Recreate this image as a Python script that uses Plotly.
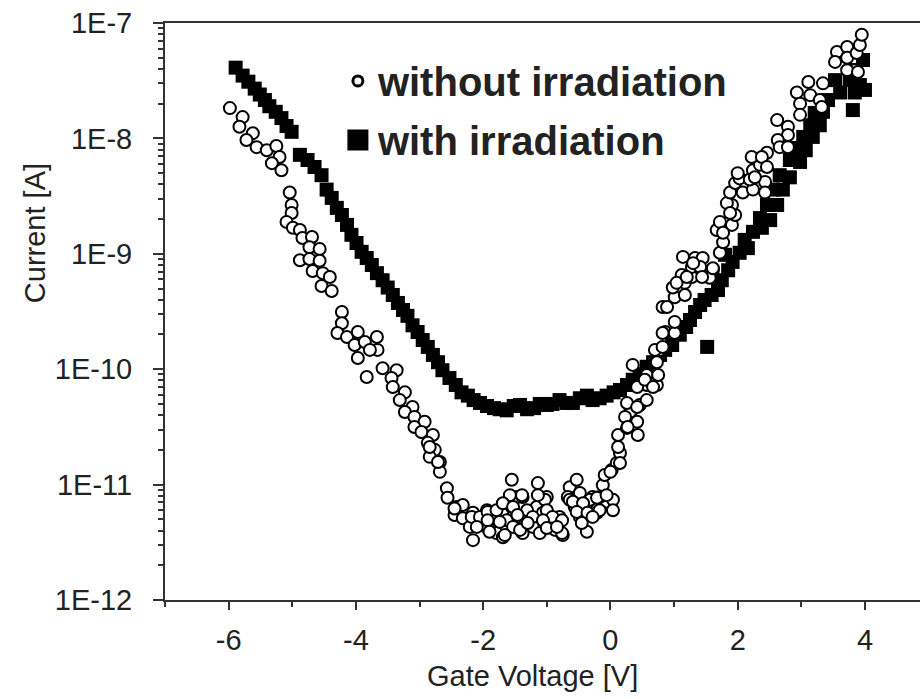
import plotly.graph_objects as go

# ---- data: without irradiation (open circles) ----
v_without = [-5.98,-5.78,-5.83,-5.62,-5.72,-5.56,-5.40,-5.25,-5.20,-5.32,-5.17,-5.04,-5.01,-5.01,-5.09,-4.99,-4.88,-4.84,-4.69,-4.73,-4.57,-4.88,-4.73,-4.57,-4.68,-4.52,-4.41,-4.54,-4.38,
             -4.22,-4.22,-4.29,-4.14,-3.97,-4.02,-3.86,-3.67,-3.66,-3.78,-3.97,-3.83,-3.58,-3.36,-3.44,-3.42,-3.23,-3.31,-3.11,-3.23,-3.08,-2.92,-3.08,-2.97,-2.79,-2.87,-2.76,-2.84,-2.68,-2.68,
             -2.57,-2.56,-2.42,-2.32,-2.45,-2.32,-2.16,-2.10,-2.21,-2.16,-1.94,-1.85,-1.93,-1.79,-1.69,-1.55,-1.47,-1.38,-1.55,-1.47,-1.63,-1.31,-1.53,-1.69,-1.38,-1.22,-1.14,-1.00,-1.16,-1.06,
             -0.95,-1.11,-1.31,-0.80,-0.75,-0.87,-0.64,-0.53,-0.67,-0.48,-0.56,-0.37,-0.48,-0.37,-0.21,-0.28,-0.12,-0.06,0.04,-0.09,0.02,0.10,0.15,0.12,0.12,0.26,0.43,0.35,0.31,0.26,0.46,0.57,
             0.57,0.73,0.57,0.75,0.73,0.35,0.78,0.42,0.42,0.23,0.42,0.27,-0.64,-0.32,-0.17,-0.43,-0.76,-0.91,-1.03,-1.00,
             0.54,0.67,0.70,0.82,0.86,1.01,1.01,0.82,0.89,1.01,0.98,1.17,1.17,1.12,1.28,1.28,1.14,1.33,1.45,1.41,1.61,1.56,1.44,1.72,1.77,1.67,1.72,1.91,1.96,1.91,1.83,1.88,1.96,2.03,2.08,
             2.24,2.19,2.00,2.24,2.35,2.22,2.46,2.43,2.43,2.38,2.46,2.27,2.62,2.79,2.79,2.63,2.66,2.79,2.93,2.98,2.98,3.14,3.11,3.29,3.34,3.32,3.56,3.53,3.72,3.72,3.87,3.92,3.95,3.84,3.72,3.89,
             1.04,1.20,1.30,1.61,0.82,1.77,1.88,
             -2.84,-2.71,-2.45,-2.18,-2.05,-2.10,-1.93,-1.93,-1.79,-1.74,-1.90,-1.66,-1.58,-1.39,-1.69,-1.53,-1.46,-1.42,-1.22,-1.30,-1.14,-1.00,-0.91,-1.06,-1.00,-0.76,-0.84,-0.59,-0.43,-0.53,
             -0.36,-0.45,-0.21,-0.06,-0.17,0.04,-0.28,0.00,0.15]
i_without = [1.83e-8,1.53e-8,1.26e-8,1.11e-8,9.7e-9,8.4e-9,7.9e-9,8.6e-9,6.9e-9,6.1e-9,5.3e-9,3.4e-9,2.65e-9,2.26e-9,1.89e-9,1.68e-9,1.61e-9,1.37e-9,1.4e-9,1.14e-9,1.1e-9,8.8e-10,9.0e-10,8.7e-10,7.1e-10,6.8e-10,6.3e-10,5.26e-10,4.76e-10,
             3.13e-10,2.5e-10,2.06e-10,1.9e-10,2.1e-10,1.62e-10,1.72e-10,1.9e-10,1.47e-10,1.47e-10,1.25e-10,8.55e-11,1.02e-10,9.8e-11,8.4e-11,7.0e-11,6.3e-11,5.4e-11,4.7e-11,4.26e-11,3.86e-11,3.5e-11,3.16e-11,2.86e-11,2.69e-11,2.3e-11,2.0e-11,1.74e-11,1.57e-11,1.29e-11,
             9.3e-12,7.7e-12,6.4e-12,6.65e-12,5.45e-12,5.1e-12,5.7e-12,4.9e-12,4.3e-12,3.3e-12,6.0e-12,5.1e-12,4.2e-12,3.8e-12,6.0e-12,1.1e-11,7.8e-12,7.8e-12,6.4e-12,5.25e-12,4.9e-12,4.9e-12,4.3e-12,3.5e-12,3.8e-12,4.3e-12,1.03e-11,7.8e-12,6.4e-12,5.7e-12,
             4.65e-12,3.8e-12,6.0e-12,5.25e-12,3.65e-12,4.05e-12,9.5e-12,1.1e-11,7.8e-12,8.45e-12,6.4e-12,6.9e-12,5.25e-12,3.9e-12,5.7e-12,7.8e-12,9.9e-12,7.1e-12,7.4e-12,1.21e-11,1.34e-11,1.54e-11,1.88e-11,2.12e-11,2.69e-11,3.1e-11,2.69e-11,3.63e-11,4.26e-11,5.1e-11,4.9e-11,5.4e-11,
             7.3e-11,7.3e-11,8.9e-11,8.9e-11,1.15e-10,1.09e-10,1.47e-10,7.0e-11,4.7e-11,3.86e-11,3.5e-11,3.16e-11,7.4e-12,7.4e-12,7.8e-12,5.25e-12,3.8e-12,4.65e-12,7.4e-12,4.65e-12,
             8.1e-11,7.0e-11,1.47e-10,1.56e-10,2.1e-10,2.06e-10,2.57e-10,3.46e-10,3.46e-10,4.2e-10,5.1e-10,4.4e-10,5.6e-10,6.55e-10,6.3e-10,7.7e-10,9.4e-10,9.2e-10,9.2e-10,7.7e-10,7.2e-10,6.2e-10,6.3e-10,1.02e-9,1.26e-9,1.61e-9,1.89e-9,1.78e-9,2.17e-9,2.65e-9,2.75e-9,3.4e-9,4.1e-9,4.5e-9,3.4e-9,
             3.6e-9,4.4e-9,5.0e-9,5.3e-9,5.9e-9,6.9e-9,7.5e-9,4.2e-9,3.4e-9,6.9e-9,5.65e-9,4.6e-9,1.44e-8,1.26e-8,1.07e-8,9.7e-9,8.4e-9,8.4e-9,2.5e-8,2.0e-8,1.6e-8,2.37e-8,3.08e-8,2.15e-8,3.0e-8,1.87e-8,5.6e-8,4.6e-8,6.2e-8,5.0e-8,5.5e-8,6.45e-8,7.9e-8,3.9e-8,3.9e-8,3.76e-8,
             5.6e-10,6.3e-10,8.3e-10,7.5e-10,2.06e-10,1.52e-9,2.26e-9,
             2.12e-11,1.57e-11,6.2e-12,5.25e-12,5.25e-12,4.3e-12,5.8e-12,4.9e-12,6.0e-12,4.75e-12,3.9e-12,3.65e-12,8.1e-12,8.1e-12,6.9e-12,6.4e-12,5.45e-12,4.05e-12,5.25e-12,4.65e-12,8.1e-12,6.0e-12,5.25e-12,4.9e-12,4.2e-12,4.9e-12,4.3e-12,7.1e-12,6.9e-12,5.8e-12,
             5.7e-12,4.65e-12,7.7e-12,8.1e-12,6.0e-12,6.0e-12,5.25e-12,1.29e-11,1.54e-11]

# ---- data: with irradiation (filled squares) ----
v_with = [-5.89,-5.78,-5.69,-5.59,-5.51,-5.43,-5.36,-5.26,-5.17,-5.09,-5.01,-4.88,-4.76,-4.65,-4.54,-4.46,-4.38,-4.30,-4.22,-4.14,-4.07,-3.99,-3.91,-3.83,-3.75,-3.67,-3.58,-3.50,-3.42,-3.34,
          -3.26,-3.19,-3.11,-3.03,-2.95,-2.87,-2.79,-2.71,-2.64,-2.53,-2.43,-2.34,-2.24,-2.15,-2.05,-1.94,-1.83,-1.74,-1.63,-1.52,-1.42,-1.31,-1.20,-1.11,-1.00,-0.91,-0.80,-0.69,-0.59,-0.48,
          -0.37,-0.28,-0.17,-0.06,0.05,0.15,
          0.26,0.35,0.46,0.57,0.67,0.78,0.86,0.97,1.09,1.19,1.25,1.33,1.41,1.52,1.48,1.59,1.69,1.75,1.85,1.92,1.80,2.03,2.16,2.11,2.24,2.38,2.35,2.51,2.46,2.62,2.55,2.71,2.66,2.82,2.82,2.98,
          2.93,3.07,3.03,3.18,3.14,3.29,3.21,3.34,3.42,3.61,3.84,4.00,3.53,3.76,3.81,3.80,3.97,3.92]
i_with = [4.1e-8,3.5e-8,3.1e-8,2.7e-8,2.4e-8,2.15e-8,1.9e-8,1.7e-8,1.5e-8,1.28e-8,1.14e-8,7.2e-9,6.5e-9,5.65e-9,4.8e-9,3.6e-9,3.05e-9,2.5e-9,2.17e-9,1.78e-9,1.46e-9,1.24e-9,1.04e-9,9.2e-10,8.0e-10,6.8e-10,5.9e-10,5.1e-10,4.4e-10,3.75e-10,
          3.26e-10,2.9e-10,2.4e-10,2.1e-10,1.79e-10,1.56e-10,1.33e-10,1.15e-10,9.8e-11,8.4e-11,7.3e-11,6.3e-11,5.9e-11,5.4e-11,5.1e-11,4.8e-11,4.6e-11,4.5e-11,4.4e-11,4.8e-11,4.9e-11,4.5e-11,4.6e-11,5.0e-11,4.9e-11,5.0e-11,5.4e-11,5.1e-11,5.1e-11,5.6e-11,
          5.9e-11,5.4e-11,5.6e-11,5.9e-11,6.3e-11,6.6e-11,
          7.3e-11,8.1e-11,9.1e-11,1.05e-10,1.15e-10,1.33e-10,1.47e-10,1.62e-10,1.99e-10,2.32e-10,2.67e-10,3.13e-10,3.6e-10,1.56e-10,3.98e-10,4.4e-10,4.85e-10,5.9e-10,7.2e-10,8.5e-10,9.8e-10,1.02e-9,1.12e-9,1.32e-9,1.55e-9,1.68e-9,2.04e-9,1.96e-9,2.65e-9,2.65e-9,3.6e-9,3.6e-9,4.8e-9,4.6e-9,6.5e-9,6.25e-9,
          8.26e-9,7.9e-9,1.03e-8,1.03e-8,1.3e-8,1.3e-8,1.66e-8,1.7e-8,2.15e-8,2.5e-8,2.5e-8,2.63e-8,3.2e-8,3.2e-8,1.76e-8,3.92e-8,4.78e-8,2.9e-8]

# ---- axes ----
x_ticks = [-6, -4, -2, 0, 2, 4]
x_minor = [-7, -5, -3, -1, 1, 3]
y_ticks = [1e-12, 1e-11, 1e-10, 1e-9, 1e-8, 1e-7]
y_ticktext = ["1E-12", "1E-11", "1E-10", "1E-9", "1E-8", "1E-7"]
y_minor = [k * 10.0 ** e for e in range(-12, -7) for k in range(2, 10)]

FONT = "Liberation Sans, Arial, sans-serif"
AX = "#333333"
TXT = "#222222"

fig = go.Figure()
fig.add_trace(go.Scatter(x=v_with, y=i_with, mode="markers", showlegend=False,
                         marker=dict(symbol="square", size=14, color="black")))
fig.add_trace(go.Scatter(x=v_without, y=i_without, mode="markers", showlegend=False,
                         marker=dict(symbol="circle", size=12, color="white",
                                     line=dict(color="black", width=2))))
# legend entries
fig.add_trace(go.Scatter(x=[None], y=[None], mode="markers", name="without irradiation",
                         legendgroup="a",
                         marker=dict(symbol="circle", size=10, color="white",
                                     line=dict(color="black", width=3))))
fig.add_trace(go.Scatter(x=[None], y=[None], mode="markers", name="with irradiation",
                         legendgroup="b",
                         marker=dict(symbol="square", size=16, color="black",
                                     line=dict(color="black", width=5))))

fig.update_layout(
    width=920, height=699,
    margin=dict(l=165, r=0, t=23, b=99),
    paper_bgcolor="white", plot_bgcolor="white",
    font=dict(family=FONT, size=29, color=TXT),
    showlegend=True,
    legend=dict(x=0.229, y=0.956, xanchor="left", yanchor="top",
                bgcolor="rgba(0,0,0,0)", borderwidth=0,
                font=dict(family=FONT, size=40, color=TXT, weight="bold"),
                itemsizing="trace", tracegroupgap=4),
)
fig.update_xaxes(range=[-7, 4.865], showgrid=False, zeroline=False,
                 showline=True, linecolor=AX, linewidth=2, mirror=True,
                 tickmode="array", tickvals=x_ticks, ticktext=[str(t) for t in x_ticks],
                 ticks="outside", ticklen=8, tickwidth=2, tickcolor=AX,
                 ticklabelstandoff=5,
                 minor=dict(tickmode="array", tickvals=x_minor, ticks="outside",
                            ticklen=5, tickwidth=2, tickcolor=AX, showgrid=False),
                 tickfont=dict(family=FONT, size=29, color=TXT))
fig.update_yaxes(type="log", range=[-12, -7], showgrid=False, zeroline=False,
                 showline=True, linecolor=AX, linewidth=2, mirror=False,
                 tickmode="array", tickvals=y_ticks, ticktext=y_ticktext,
                 ticks="outside", ticklen=10, tickwidth=2, tickcolor=AX,
                 ticklabelstandoff=15,
                 minor=dict(tickmode="array", tickvals=y_minor, ticks="outside",
                            ticklen=5, tickwidth=1.5, tickcolor=AX, showgrid=False),
                 tickfont=dict(family=FONT, size=29, color=TXT))

fig.add_annotation(text="Gate Voltage [V]", xref="paper", yref="paper",
                   x=(532 - 165) / 755, y=-0.132, xanchor="center", yanchor="middle",
                   showarrow=False, font=dict(family=FONT, size=29, color=TXT))
fig.add_annotation(text="Current [A]", xref="paper", yref="paper",
                   x=-0.172, y=(600 - 233) / 577, xanchor="center", yanchor="middle",
                   textangle=-90, showarrow=False,
                   font=dict(family=FONT, size=29, color=TXT))

fig.write_html("out.html")
